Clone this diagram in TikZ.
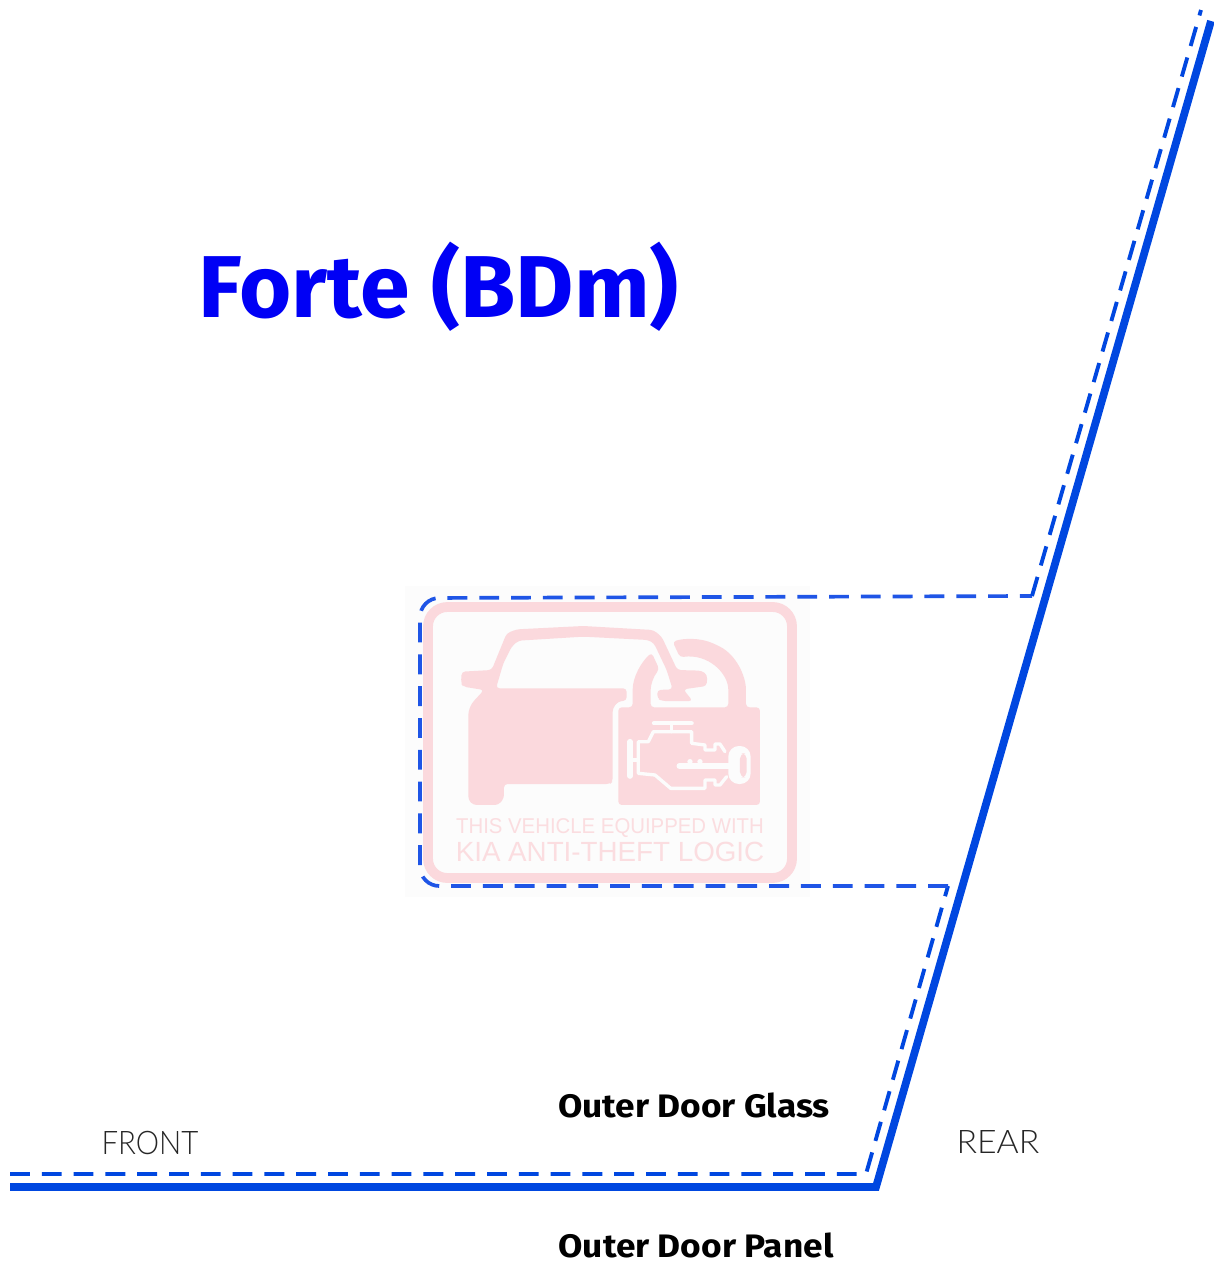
\documentclass[tikz,border=0pt]{standalone}
\usepackage{fontspec}
\setmainfont{Fira Sans}
\newfontfamily\lightfont{Lato Light}
\newfontfamily\stickerfont{Liberation Sans}
\definecolor{kiablue}{HTML}{0047E0}
\definecolor{dashblue}{HTML}{1F55E6}
\definecolor{titleblue}{HTML}{0000F5}
\definecolor{stickerpink}{HTML}{FBD9DD}
\definecolor{stickerbg}{HTML}{FCFCFC}
\tikzset{
  pinkfill/.style={fill=stickerpink,draw=none,rounded corners=2pt},
  cutline/.style={draw=stickerbg,line width=1.9pt,line join=round,line cap=round},
  solidline/.style={draw=kiablue,line width=4.4pt,line join=miter},
  dashline/.style={draw=kiablue,line width=2.2pt,dash pattern=on 11.3pt off 6.8pt},
  bluedash/.style={draw=dashblue,line width=2.1pt,dash pattern=on 11.3pt off 6.8pt,rounded corners=11pt},
  labeltext/.style={inner sep=0pt,anchor=center,text=black,xscale=1.085,font=\fontsize{18.5}{20}\selectfont\bfseries},
  sidetext/.style={inner sep=0pt,anchor=center,text=black!85,font=\fontsize{18.5}{20}\selectfont\lightfont},
  stickertext/.style={inner sep=0pt,anchor=center,text=stickerpink!90!white,font=\stickerfont}
}
\begin{document}
\begin{tikzpicture}[x=0.02cm,y=-0.02cm]
\useasboundingbox (0,0) rectangle (1214,1262);
\fill[white] (0,0) rectangle (1214,1262);
% sticker background
\fill[stickerbg] (405,586) rectangle (810,897);
\draw[draw=stickerpink,line width=5.6pt,rounded corners=11pt] (428,607) rectangle (792,878);
\begin{scope}[shift={(400,580)},x=0.00667cm,y=-0.00667cm]
% car
\path[pinkfill] (185,275) -- (275,270) -- (320,160) -- (350,148) -- (550,138) -- (760,150) -- (785,170) -- (832,270) -- (905,272) -- (922,285) -- (920,318) -- (850,328) -- (878,363) -- (785,363) -- (772,355) -- (772,330) -- (818,328) -- (800,270) -- (762,190) -- (745,180) -- (550,170) -- (355,182) -- (335,200) -- (310,250) -- (288,325) -- (680,325) -- (680,362) -- (655,364) -- (638,385) -- (638,605) -- (630,612) -- (312,612) -- (312,655) -- (295,675) -- (220,675) -- (205,660) -- (205,395) -- (215,370) -- (252,330) -- (190,320) -- (183,310) -- cycle;
% lock
\path[pinkfill] (818,185) .. controls (850,175) and (900,172) .. (950,195) .. controls (1010,225) and (1038,290) .. (1038,340) -- (1038,382) -- (1080,382) -- (1080,675) -- (655,675) -- (655,382) -- (698,382) -- (698,340) .. controls (698,290) and (725,245) .. (755,218) -- (778,268) .. controls (760,290) and (752,315) .. (752,340) -- (752,382) -- (985,382) -- (985,340) .. controls (985,280) and (925,220) .. (840,232) -- cycle;
% engine
\draw[cutline,line width=2.4pt] (762,430) -- (875,430);
\draw[cutline] (815,430) -- (815,455);
\draw[cutline] (975,515) -- (960,492) -- (945,492) -- (945,510) -- (915,510) -- (915,495) -- (875,490) -- (875,455) -- (760,455) -- (745,485) -- (715,485) -- (715,580) -- (765,585) -- (812,625) -- (915,625) -- (915,600) -- (945,600) -- (945,615) -- (960,615) -- (980,590);
\draw[cutline,line width=3.2pt] (690,485) -- (690,588);
\draw[cutline] (690,540) -- (715,540);
% key
\draw[cutline,line width=3.2pt] (838,558) -- (990,558);
\fill[stickerbg] (870,545) circle[radius=8] (900,545) circle[radius=8];
\fill[stickerbg,rounded corners=6pt] (985,498) rectangle (1052,612);
\fill[stickerpink,rounded corners=3pt] (1020,520) rectangle (1040,592);
\end{scope}
\node[stickertext,xscale=.95,font=\stickerfont\fontsize{12.2}{14}\selectfont] (stickera) at (610,828) {THIS VEHICLE EQUIPPED WITH};
\node[stickertext,font=\stickerfont\fontsize{15.8}{18}\selectfont] (stickerb) at (610,852) {KIA ANTI-THEFT LOGIC};
% lines
\draw[solidline] (10,1187) -- (876,1187) -- (1211,21);
\draw[dashline] (10,1174) -- (866,1174) -- (948,886);
\draw[bluedash] (948,886) -- (420,886) -- (420,598) -- (1032,596);
\draw[dashline] (1032,596) -- (1201,10);
% text
\node[inner sep=0pt,text=titleblue,xscale=1.02,font=\fontsize{50}{56}\selectfont\bfseries] (title) at (439,287) {Forte (BDm)};
\node[labeltext] (glass) at (694,1105) {Outer Door Glass};
\node[labeltext] (panel) at (696,1245) {Outer Door Panel};
\node[sidetext,xscale=.905] (front) at (150,1143) {FRONT};
\node[sidetext,xscale=1.04] (rear) at (998,1142) {REAR};
\end{tikzpicture}
\end{document}
